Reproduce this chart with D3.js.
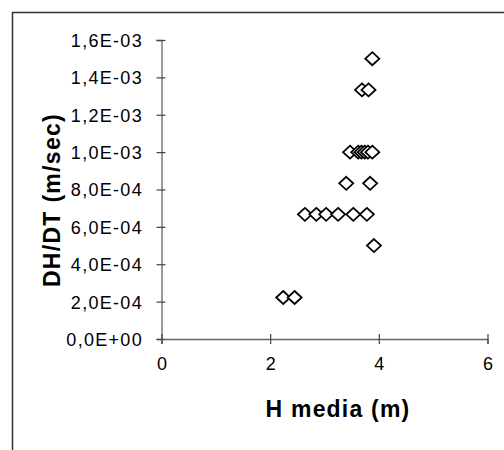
<!DOCTYPE html>
<html>
<head>
<meta charset="utf-8">
<script src="https://cdn.jsdelivr.net/npm/d3@7"></script>
<style>
  html, body { margin: 0; padding: 0; background: #fff; }
  svg { display: block; }
</style>
</head>
<body>
<svg id="chart" width="504" height="450"></svg>
<script>
// ---- data ----
const hMedia = [3.88, 3.69, 3.81, 3.47, 3.62, 3.68, 3.74, 3.80, 3.88, 3.40, 3.84,
                2.64, 2.85, 3.03, 3.25, 3.53, 3.78, 3.91, 2.24, 2.45];
const dhdt = [1.5e-3, 1.333e-3, 1.333e-3, 1.0e-3, 1.0e-3, 1.0e-3, 1.0e-3, 1.0e-3, 1.0e-3, 8.33e-4, 8.33e-4,
              6.67e-4, 6.67e-4, 6.67e-4, 6.67e-4, 6.67e-4, 6.67e-4, 5.0e-4, 2.22e-4, 2.22e-4];
const xTicks = [0, 2, 4, 6];
const yTicks = [0, 2e-4, 4e-4, 6e-4, 8e-4, 1.0e-3, 1.2e-3, 1.4e-3, 1.6e-3];
const yTickLabels = ["0,0E+00", "2,0E-04", "4,0E-04", "6,0E-04", "8,0E-04", "1,0E-03", "1,2E-03", "1,4E-03", "1,6E-03"];
const xTitle = "H media (m)";
const yTitle = "DH/DT (m/sec)";

const svg = d3.select("#chart");
const font = "'Liberation Sans', Arial, Helvetica, sans-serif";

// frame
svg.append("rect")
  .attr("x", 12.5).attr("y", 12.5).attr("width", 520).attr("height", 470)
  .attr("fill", "none").attr("stroke", "#333").attr("stroke-width", 1.5);

const x = d3.scaleLinear().domain([0, 6]).range([161.5, 487.5]);
const y = d3.scaleLinear().domain([0, 1.6e-3]).range([339, 40]);

// y axis
const gy = svg.append("g").attr("transform", "translate(161.5,0)")
  .call(d3.axisLeft(y).tickValues(yTicks).tickSizeOuter(0).tickSize(5).tickPadding(0)
        .tickFormat((d, i) => yTickLabels[i]));
gy.select(".domain").attr("stroke", "#666").attr("stroke-width", 1.3);
gy.selectAll(".tick line").attr("x1", 4).attr("x2", -5).attr("stroke", "#444").attr("stroke-width", 1.2);
gy.selectAll(".tick text")
  .attr("x", -18.5).attr("dy", "0.36em")
  .style("font-family", font).style("font-size", "18px").style("letter-spacing", "1.3px")
  .attr("fill", "#000");

// x axis
const gx = svg.append("g").attr("transform", "translate(0,339)")
  .call(d3.axisBottom(x).tickValues(xTicks).tickSizeOuter(0).tickSize(5)
        .tickFormat(d3.format("d")));
gx.select(".domain").attr("stroke", "#666").attr("stroke-width", 1.3);
gx.selectAll(".tick line").attr("y1", -5).attr("y2", 5).attr("stroke", "#444").attr("stroke-width", 1.2);
gx.selectAll(".tick text")
  .attr("y", 31).attr("dy", 0)
  .style("font-family", font).style("font-size", "18px")
  .attr("fill", "#000");

// points (diamonds)
const diamond = "M0,-6.5L7,0L0,6.5L-7,0Z";
svg.append("g").selectAll("path")
  .data(hMedia.map((h, i) => [h, dhdt[i]]))
  .join("path")
  .attr("transform", d => `translate(${x(d[0])},${y(d[1])})`)
  .attr("d", diamond)
  .attr("fill", "#fff")
  .attr("stroke", "#000")
  .attr("stroke-width", 1.8);

// titles
svg.append("text")
  .attr("x", 338).attr("y", 416.5)
  .attr("text-anchor", "middle")
  .style("font-family", font).style("font-size", "23px").style("font-weight", "bold")
  .style("letter-spacing", "1.2px")
  .text(xTitle);

svg.append("text")
  .attr("transform", "translate(59.5,200) rotate(-90)")
  .attr("text-anchor", "middle")
  .style("font-family", font).style("font-size", "23px").style("font-weight", "bold")
  .style("letter-spacing", "1.3px")
  .text(yTitle);
</script>
</body>
</html>
